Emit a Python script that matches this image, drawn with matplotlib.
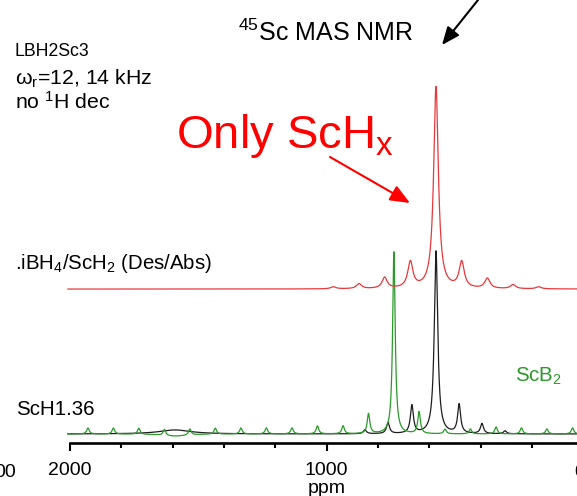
import numpy as np
import matplotlib
matplotlib.use('Agg')
import matplotlib.pyplot as plt

plt.rcParams['font.family'] = ['Liberation Sans', 'DejaVu Sans']
plt.rcParams['mathtext.fontset'] = 'custom'
plt.rcParams['mathtext.rm'] = 'Liberation Sans'
plt.rcParams['mathtext.it'] = 'Liberation Sans:italic'
plt.rcParams['mathtext.default'] = 'regular'

# ── Peak tables (ppm, intensity, half width in ppm) ──
# intensity scale: black centre band = 100
red_pos = [574, 674, 474, 774, 374, 874, 274, 974, 174]
red_amp = [110.4, 14.2, 14.2, 6.0, 5.5, 2.7, 2.2, 1.1, 1.1]
red_hw = [11, 12, 12, 12, 12, 12, 12, 12, 12]
red_offset = 79.2

black_pos = [574, 668, 484, 761, 395, 851, 305, 1591]
black_amp = [100, 15.3, 15.8, 6.0, 5.5, 2.2, 1.6, 2.2]
black_hw = [8, 7, 7, 7, 7, 7, 7, 75]

green_pos = [738, 837, 640, 936, 1036, 1135, 1235, 1334, 1434, 1533,
             1632, 1732, 1831, 1930, 539, 440, 340, 241, 142, 42, 1591]
green_amp = [99.5, 10.9, 12.0, 4.4, 4.4, 3.3, 3.3, 3.3, 3.3, 3.3,
             3.3, 3.3, 3.3, 3.3, 2.5, 2.7, 3.8, 3.3, 2.7, 3.3, -1.2]
green_hw = [6, 6, 6, 6, 6, 6, 6, 6, 6, 6,
            6, 6, 6, 6, 6, 6, 6, 6, 6, 6, 60]

major_ticks = [2000, 1000]
tick_labels = ['2000', '1000']

W, H = 577, 496
ppm = np.linspace(2008, 24, 4000)


def spectrum(pos, amp, hw):
    y = np.zeros_like(ppm)
    for c, a, w in zip(pos, amp, hw):
        y += a / (1 + ((ppm - c) / w) ** 2)
    return y


fig = plt.figure(figsize=(W / 100, H / 100), dpi=100)
ax = fig.add_axes([0, 0, 1, 1])
ax.set_xlim(2272.7, 24.7)
ax.set_ylim(-33.9, 237.2)

ax.plot(ppm, spectrum(black_pos, black_amp, black_hw), color='#1e1e1e', lw=0.9)
ax.plot(ppm, spectrum(green_pos, green_amp, green_hw), color='#2b9a2b', lw=0.9)
ax.plot(ppm, spectrum(red_pos, red_amp, red_hw) + red_offset, color='#e8383c', lw=0.9)

# ── axis: only the bottom spine, starting at 2000 ppm ──
for s in ['left', 'right', 'top']:
    ax.spines[s].set_visible(False)
ax.spines['bottom'].set_position(('data', -4.9))
ax.spines['bottom'].set_bounds(2000, 0)
ax.spines['bottom'].set_linewidth(1.9)
ax.set_yticks([])
ax.set_xticks(major_ticks)
ax.set_xticklabels(tick_labels)
ax.set_xticks(np.arange(200, 2000, 200), minor=True)
ax.tick_params(axis='x', which='major', direction='out', length=5.8, width=1.5,
               pad=8, labelsize=14)
ax.tick_params(axis='x', which='minor', direction='out', length=3.8, width=1.5)
ax.patch.set_visible(False)


def fx(x):
    return x / W


def fy(y):
    return 1 - y / H


# the 0 ppm label lies just past the right edge; a stray label shows at the left
fig.text(fx(580), fy(477), '0', fontsize=14, ha='center', va='baseline')
fig.text(fx(16), fy(477), '00', fontsize=14, ha='right', va='baseline')
fig.text(fx(327), fy(493), 'ppm', fontsize=14, ha='center', va='baseline')

# ── labels ──
fig.text(fx(238), fy(41), r'$^{45}$Sc MAS NMR', fontsize=18, va='baseline')
fig.text(fx(15), fy(56), 'LBH2Sc3', fontsize=12.7, va='baseline')
fig.text(fx(15), fy(85), 'ω$_r$=12, 14 kHz', fontsize=15.3, va='baseline')
fig.text(fx(15), fy(109), 'no $^1$H dec', fontsize=15.3, va='baseline')
fig.text(fx(176), fy(148), 'Only ScH$_x$', fontsize=34, color='#ff0000', va='baseline')
fig.text(fx(15), fy(269), '.iBH$_4$/ScH$_2$ (Des/Abs)', fontsize=14.7, va='baseline')
fig.text(fx(16), fy(415), 'ScH1.36', fontsize=14.8, va='baseline')
fig.text(fx(515), fy(382), 'ScB$_2$', fontsize=14.8, color='#2b9a2b', va='baseline')

# ── arrows ──
ax.annotate('', xy=(410, H - 203), xytext=(330, H - 157),
            xycoords='figure pixels', textcoords='figure pixels',
            arrowprops=dict(arrowstyle='-|>,head_length=0.6,head_width=0.25',
                            mutation_scale=20, color='#ff0000', lw=1.5,
                            shrinkA=0, shrinkB=0))
ax.annotate('', xy=(442, H - 45), xytext=(478, H),
            xycoords='figure pixels', textcoords='figure pixels',
            arrowprops=dict(arrowstyle='-|>,head_length=0.6,head_width=0.25',
                            mutation_scale=18, color='black', lw=1.5,
                            shrinkA=0, shrinkB=0))

fig.savefig('out.png', dpi=100)
print("saved out.png")
